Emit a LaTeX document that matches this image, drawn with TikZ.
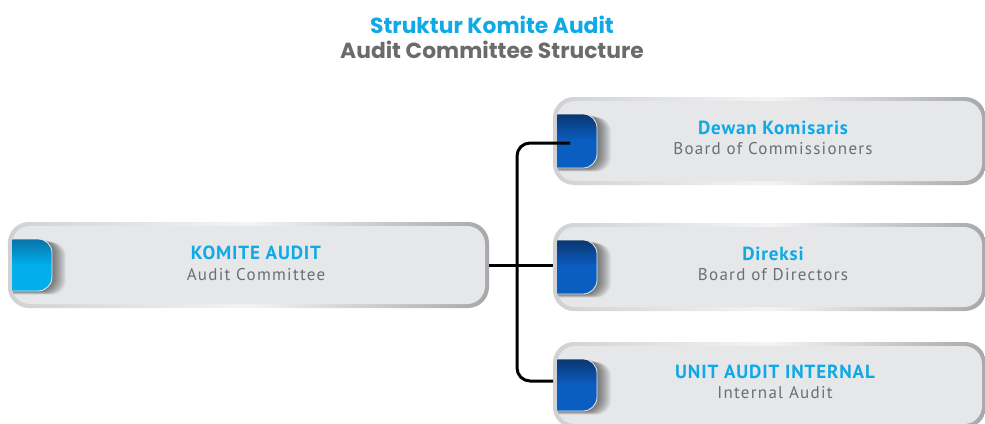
\documentclass[tikz,border=0pt]{standalone}
\usepackage{fontspec}
\newfontfamily\poppins{Poppins}
\newfontfamily\ptsans{PT Sans}
\newfontfamily\ptsanshead{PT Sans}[LetterSpace=4.5]
\newfontfamily\ptsanssub{PT Sans}[LetterSpace=7.5]
\usetikzlibrary{calc}
\definecolor{cyanT}{HTML}{0EA9E6}
\definecolor{grayT}{HTML}{6D6E71}
\definecolor{titleGray}{HTML}{6B6B6D}
\definecolor{boxfill}{HTML}{E6E7E8}
\definecolor{bordL}{HTML}{D0D1D3}
\definecolor{bordM}{HTML}{F4F4F5}
\definecolor{bordR}{HTML}{A7A8AB}
\definecolor{navyTop}{HTML}{0A3670}
\definecolor{navyBot}{HTML}{0A5EC2}
\definecolor{cyanTop}{HTML}{0873A6}
\definecolor{cyanBot}{HTML}{02AEEC}
\tikzset{
 frame/.style={draw=none, inner sep=0pt, outer sep=0pt},
 outerb/.style={rounded corners=21pt, left color=bordL, right color=bordR, middle color=bordM},
 innerb/.style={rounded corners=18pt, fill=boxfill},
 conn/.style={draw=black, line width=3pt, rounded corners=13pt},
 headtxt/.style={font=\ptsanshead\bfseries\fontsize{19}{22}\selectfont, text=cyanT, inner sep=0pt},
 subtxt/.style={font=\ptsanssub\fontsize{17}{20}\selectfont, text=grayT, inner sep=0pt},
 titletxt/.style={font=\poppins\bfseries\fontsize{21.8}{26}\selectfont, inner sep=0pt},
}
\newcommand\orgbox[3]{%
 \shade[outerb] (#1.north west) rectangle (#1.south east);
 \fill[innerb] ([shift={(4,4)}]#1.north west) rectangle ([shift={(-4,-4)}]#1.south east);
 \begin{scope}
  \clip[rounded corners=18pt] ([shift={(4,4)}]#1.north west) rectangle ([shift={(-4,-4)}]#1.south east);
  \foreach \i in {1,...,14}{
   \fill[black, opacity=0.045, rounded corners=14pt] ([shift={(-20+\i,17+\i/4)}]#1.north west) rectangle ([shift={(44+\i,-17+\i/4)}]#1.south west);
  }
  \shadedraw[top color=#2, bottom color=#3, middle color=#3, draw=white!85!gray, line width=0.8pt, rounded corners=14pt] ([shift={(-20,17)}]#1.north west) rectangle ([shift={(44,-17)}]#1.south west);
 \end{scope}
}
\begin{document}
\begin{tikzpicture}[x=1pt,y=-1pt]
\fill[white] (0,0) rectangle (985,423);
\useasboundingbox (0,0) rectangle (985,423);

\node[frame, minimum width=481pt, minimum height=86pt] (ka) at (248.5,265) {};
\node[frame, minimum width=433pt, minimum height=88pt] (dk) at (769.5,141) {};
\node[frame, minimum width=433pt, minimum height=88pt] (dir) at (769.5,267) {};
\node[frame, minimum width=433pt, minimum height=86pt] (uai) at (769.5,385) {};

\orgbox{ka}{cyanTop}{cyanBot}
\orgbox{dk}{navyTop}{navyBot}
\orgbox{dir}{navyTop}{navyBot}
\orgbox{uai}{navyTop}{navyBot}

\coordinate (j) at (517,265);
\draw[conn] (ka.east) -- (ka.east -| dir.west);
\draw[conn] ([xshift=17pt,yshift=-2pt]dk.west) -| (j) |- ([yshift=4pt]uai.west);

\node[titletxt, text=cyanT] (t1) at (492,25) {Struktur Komite Audit};
\node[titletxt, text=titleGray] (t2) at (492,50) {Audit Committee Structure};

\node[headtxt] (kah) at (256,253) {KOMITE AUDIT};
\node[subtxt] (kas) at (256,275) {Audit Committee};
\node[headtxt] (dkh) at (773,128) {Dewan Komisaris};
\node[subtxt] (dks) at (773,149) {Board of Commissioners};
\node[headtxt] (dirh) at (773,254) {Direksi};
\node[subtxt] (dirs) at (773,275) {Board of Directors};
\node[headtxt] (uaih) at (775,372) {UNIT AUDIT INTERNAL};
\node[subtxt] (uais) at (775,393) {Internal Audit};
\end{tikzpicture}
\end{document}
